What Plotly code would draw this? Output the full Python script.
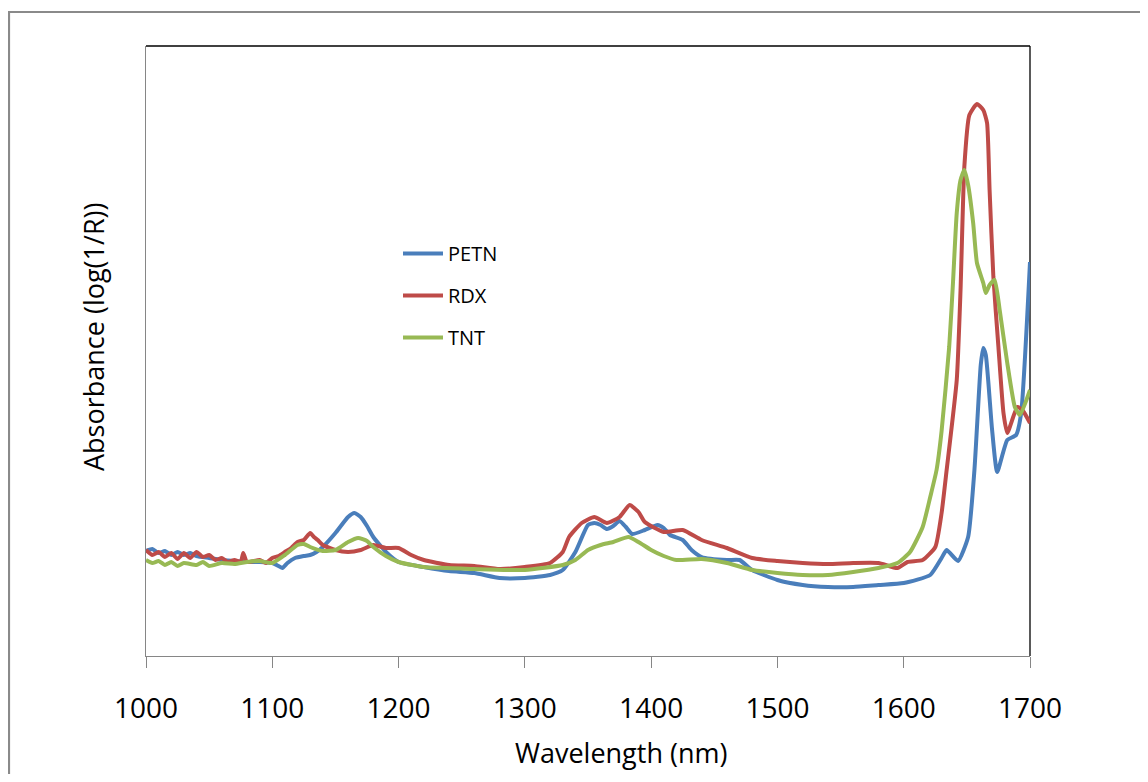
import plotly.graph_objects as go

# Wavelength (nm) and absorbance values
petn_x = [1000, 1005, 1010, 1015, 1020, 1025, 1030, 1035, 1040, 1050,
          1060, 1070, 1080, 1090, 1100, 1105, 1108, 1112, 1118, 1125,
          1130, 1135, 1140, 1150, 1160, 1165, 1170, 1175, 1180, 1190,
          1200, 1220, 1240, 1260, 1280, 1300, 1320, 1330, 1340, 1350,
          1355, 1360, 1365, 1370, 1375, 1380, 1385, 1395, 1405, 1410,
          1415, 1425, 1432, 1440, 1460, 1470, 1480, 1500, 1520, 1540,
          1560, 1580, 1600, 1621, 1630, 1634, 1643, 1651, 1656, 1661,
          1663, 1665, 1670, 1674, 1682, 1689, 1693, 1700]
petn_y = [0.105, 0.107, 0.103, 0.105, 0.101, 0.104, 0.101, 0.103, 0.100, 0.098,
          0.096, 0.095, 0.094, 0.094, 0.093, 0.090, 0.088, 0.093, 0.098, 0.100,
          0.101, 0.104, 0.109, 0.123, 0.139, 0.143, 0.139, 0.130, 0.119, 0.104,
          0.094, 0.089, 0.085, 0.083, 0.078, 0.078, 0.081, 0.086, 0.104, 0.131,
          0.133, 0.131, 0.127, 0.130, 0.135, 0.129, 0.122, 0.126, 0.131, 0.128,
          0.121, 0.116, 0.106, 0.099, 0.096, 0.096, 0.086, 0.076, 0.071, 0.069,
          0.069, 0.071, 0.073, 0.081, 0.098, 0.106, 0.095, 0.119, 0.186, 0.291,
          0.308, 0.301, 0.226, 0.184, 0.216, 0.221, 0.243, 0.394]

rdx_x = [1000, 1005, 1010, 1015, 1020, 1025, 1030, 1035, 1040, 1045,
         1050, 1055, 1060, 1065, 1070, 1075, 1077, 1080, 1090, 1095,
         1100, 1105, 1110, 1115, 1120, 1125, 1130, 1133, 1136, 1140,
         1150, 1160, 1170, 1180, 1190, 1200, 1210, 1220, 1240, 1260,
         1280, 1300, 1320, 1330, 1335, 1345, 1355, 1365, 1375, 1383,
         1390, 1395, 1410, 1425, 1440, 1460, 1480, 1500, 1520, 1540,
         1560, 1580, 1595, 1603, 1615, 1625, 1630, 1634, 1642, 1645,
         1648, 1652, 1658, 1663, 1666, 1668, 1671, 1675, 1679, 1682,
         1690, 1694, 1700]
rdx_y = [0.106, 0.101, 0.104, 0.099, 0.103, 0.097, 0.103, 0.098, 0.104, 0.099,
         0.101, 0.096, 0.098, 0.094, 0.096, 0.094, 0.103, 0.094, 0.096, 0.093,
         0.098, 0.100, 0.104, 0.108, 0.114, 0.116, 0.123, 0.119, 0.116, 0.111,
         0.106, 0.104, 0.106, 0.111, 0.108, 0.108, 0.101, 0.096, 0.091, 0.090,
         0.087, 0.089, 0.093, 0.104, 0.119, 0.133, 0.139, 0.133, 0.139, 0.151,
         0.144, 0.134, 0.124, 0.126, 0.116, 0.108, 0.098, 0.095, 0.093, 0.092,
         0.093, 0.093, 0.088, 0.094, 0.096, 0.109, 0.143, 0.186, 0.276, 0.366,
         0.489, 0.541, 0.552, 0.546, 0.533, 0.466, 0.379, 0.309, 0.243, 0.223,
         0.249, 0.246, 0.233]

tnt_x = [1000, 1005, 1010, 1015, 1020, 1025, 1030, 1040, 1045, 1050,
         1060, 1070, 1080, 1090, 1100, 1110, 1120, 1125, 1130, 1140,
         1150, 1160, 1168, 1175, 1180, 1190, 1200, 1220, 1260, 1300,
         1330, 1340, 1350, 1360, 1370, 1382, 1390, 1400, 1410, 1420,
         1440, 1460, 1480, 1500, 1520, 1540, 1560, 1580, 1595, 1605,
         1615, 1621, 1626, 1630, 1636, 1639, 1642, 1645, 1648, 1651,
         1655, 1658, 1663, 1665, 1668, 1672, 1676, 1682, 1688, 1692,
         1700]
tnt_y = [0.096, 0.093, 0.095, 0.091, 0.094, 0.090, 0.093, 0.091, 0.094, 0.090,
         0.093, 0.092, 0.094, 0.095, 0.093, 0.101, 0.111, 0.112, 0.109, 0.105,
         0.106, 0.114, 0.118, 0.115, 0.109, 0.100, 0.094, 0.089, 0.087, 0.086,
         0.091, 0.096, 0.106, 0.111, 0.114, 0.119, 0.114, 0.106, 0.100, 0.096,
         0.097, 0.093, 0.086, 0.083, 0.081, 0.081, 0.084, 0.088, 0.093, 0.104,
         0.129, 0.159, 0.186, 0.225, 0.309, 0.373, 0.443, 0.476, 0.486, 0.471,
         0.433, 0.393, 0.373, 0.363, 0.371, 0.376, 0.346, 0.293, 0.249, 0.241,
         0.266]

x_ticks = [1000, 1100, 1200, 1300, 1400, 1500, 1600, 1700]

series = [
    ("PETN", petn_x, petn_y, "#4A7EBB"),
    ("RDX", rdx_x, rdx_y, "#BE4B48"),
    ("TNT", tnt_x, tnt_y, "#98B954"),
]

FONT = "Open Sans"
# The page adds an 8 px body margin, so figure coords = page coords - 8.
OFF = 8
PL, PR, PT, PB = 146 - OFF, 1030 - OFF, 46 - OFF, 656 - OFF  # plot area in figure px
W, H = 1148 - 2 * OFF, 782 - 2 * OFF
PW, PH = PR - PL, PB - PT


def px_x(page_x):
    return (page_x - OFF - PL) / PW


def px_y(page_y):
    return (PB - (page_y - OFF)) / PH


fig = go.Figure()
for name, xs, ys, col in series:
    fig.add_trace(go.Scatter(
        x=xs, y=ys, name=name, mode="lines", legendgroup=name,
        line=dict(color=col, width=4, shape="spline", smoothing=0.5),
    ))

fig.update_layout(
    width=W, height=H,
    margin=dict(l=PL, r=W - PR, t=PT, b=H - PB),
    paper_bgcolor="white", plot_bgcolor="white",
    font=dict(family=FONT, color="black"),
    showlegend=True,
    legend=dict(
        x=px_x(398), y=px_y(234), xanchor="left", yanchor="top",
        font=dict(size=20, family=FONT, color="black"),
        bgcolor="rgba(0,0,0,0)", tracegroupgap=13, itemwidth=40,
    ),
    xaxis=dict(
        range=[1000, 1700], tickvals=x_ticks, ticktext=[str(t) for t in x_ticks],
        showgrid=False, zeroline=False, showline=True, linecolor="#868686",
        linewidth=1, ticks="outside", ticklen=11, tickcolor="#868686",
        tickfont=dict(size=28, family=FONT, color="black"),
        ticklabelstandoff=16,
    ),
    yaxis=dict(
        range=[0, 0.61], showticklabels=False, ticks="", showgrid=False,
        zeroline=False, showline=True, linecolor="#868686", linewidth=1,
    ),
    shapes=[
        # plot-area border (top and right)
        dict(type="line", xref="paper", yref="paper", x0=0, x1=1, y0=1, y1=1,
             line=dict(color="black", width=1.3), layer="below"),
        dict(type="line", xref="paper", yref="paper", x0=1, x1=1, y0=0, y1=1,
             line=dict(color="black", width=1.3), layer="below"),
        # chart-area border
        dict(type="rect", xref="paper", yref="paper",
             x0=px_x(9), x1=px_x(1170),
             y0=px_y(820), y1=px_y(12),
             line=dict(color="#8a8a8a", width=2.2), layer="below"),
    ],
    annotations=[
        dict(text="Wavelength (nm)", xref="paper", yref="paper",
             x=px_x(621), y=px_y(752), showarrow=False,
             xanchor="center", yanchor="middle",
             font=dict(size=27, family=FONT, color="black")),
        dict(text="Absorbance (log(1/R))", xref="paper", yref="paper",
             x=px_x(94), y=px_y(337), showarrow=False,
             xanchor="center", yanchor="middle", textangle=-90,
             font=dict(size=27, family=FONT, color="black")),
    ],
)

fig.write_html("out.html")
